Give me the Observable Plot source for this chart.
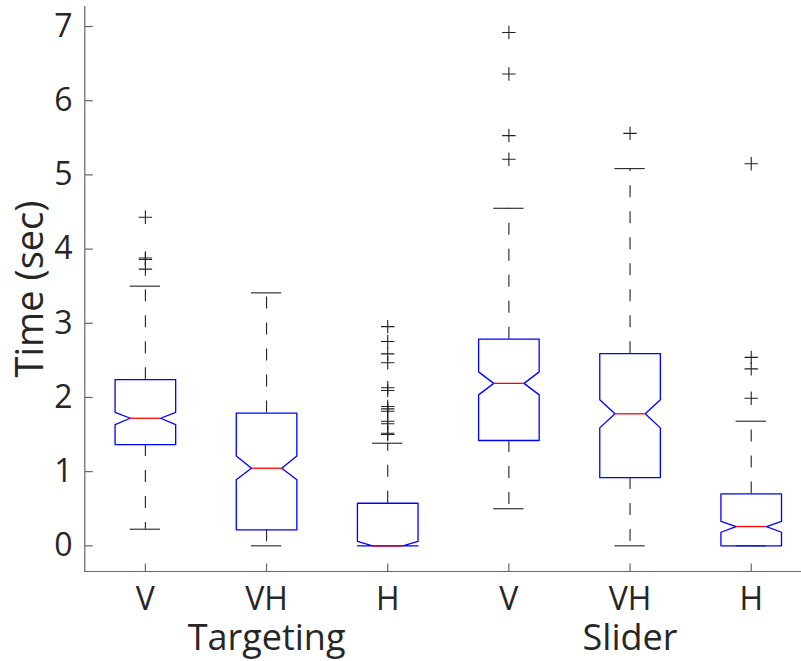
<!DOCTYPE html>
<html>
<head>
<meta charset="utf-8">
<script src="https://cdn.jsdelivr.net/npm/d3@7"></script>
<script src="https://cdn.jsdelivr.net/npm/@observablehq/plot@0.6"></script>
<style>
  html, body { margin: 0; padding: 0; background: #fff; }
  #chart svg { display: block; }
</style>
</head>
<body>
<div id="chart"></div>
<script>
// ---- data ----
const conditions = ["V", "VH", "H", "V", "VH", "H"];
const positions = [1, 2, 3, 4, 5, 6];
const groupNames = ["Targeting", "Slider"];
const groupPositions = [2, 5];
const q1 = [1.365, 0.216, 0, 1.42, 0.92, 0];
const medians = [1.72, 1.046, 0, 2.19, 1.78, 0.26];
const q3 = [2.24, 1.79, 0.574, 2.785, 2.59, 0.70];
const notchLo = [1.635, 0.89, 0, 2.035, 1.59, 0.183];
const notchHi = [1.80, 1.21, 0.06, 2.345, 1.97, 0.33];
const whiskerLo = [0.224, 0, 0, 0.50, 0, 0];
const whiskerHi = [3.50, 3.41, 1.383, 4.55, 5.085, 1.68];
const outliers = [
  [4.43, 3.88, 3.86, 3.73],
  [],
  [2.955, 2.754, 2.588, 2.467, 2.13, 2.093, 1.878, 1.846, 1.815, 1.68, 1.645, 1.518, 1.50],
  [6.92, 6.36, 5.53, 5.21],
  [5.56],
  [5.15, 2.54, 2.385, 1.99]
];
const yTicks = [0, 1, 2, 3, 4, 5, 6, 7];
const yLabel = "Time (sec)";
const xDomain = [0.5, 6.5];
const yDomain = [-0.346, 7.27];

// ---- derived tables ----
const halfBox = 0.25, halfNotch = 0.125;
const stats = positions.map((p, i) => ({
  pos: p, q1: q1[i], med: medians[i], q3: q3[i],
  nlo: notchLo[i], nhi: notchHi[i], lo: whiskerLo[i], hi: whiskerHi[i]
}));
const boxPts = [];
stats.forEach((s, i) => {
  const L = s.pos - halfBox, R = s.pos + halfBox;
  const pts = [
    [L, s.q1], [L, s.nlo], [s.pos - halfNotch, s.med], [L, s.nhi], [L, s.q3],
    [R, s.q3], [R, s.nhi], [s.pos + halfNotch, s.med], [R, s.nlo], [R, s.q1], [L, s.q1]
  ];
  pts.forEach(([x, y]) => boxPts.push({box: i, x, y}));
});
const outlierRows = outliers.flatMap((arr, i) => arr.map(v => ({pos: positions[i], v})));

const tickRight = {draw(ctx) { ctx.moveTo(0, 0); ctx.lineTo(8, 0); }};
const tickUp = {draw(ctx) { ctx.moveTo(0, 0); ctx.lineTo(0, -8); }};
const axisColor = "#666";

const chart = Plot.plot({
  width: 801,
  height: 661,
  marginTop: 6,
  marginBottom: 90,
  marginLeft: 84,
  marginRight: 0,
  style: {fontFamily: "'Open Sans', sans-serif", fontSize: "32px", color: "#262626", background: "#fff"},
  x: {domain: xDomain, range: [84.3, 811.3], axis: null},
  y: {domain: yDomain, axis: null},
  marks: [
    // axis lines
    Plot.ruleX([xDomain[0]], {stroke: axisColor, strokeWidth: 1.2}),
    Plot.ruleY([yDomain[0]], {stroke: axisColor, strokeWidth: 1.2}),
    // inward ticks
    Plot.dot(yTicks, {x: () => xDomain[0], y: d => d, symbol: tickRight, r: 4, fill: "none", stroke: axisColor, strokeWidth: 1.2}),
    Plot.dot(positions, {x: d => d, y: () => yDomain[0], symbol: tickUp, r: 4, fill: "none", stroke: axisColor, strokeWidth: 1.2}),
    // tick labels
    Plot.axisY(yTicks, {tickSize: 0, tickPadding: 12, label: null, fontSize: 32, tickFormat: d => String(d)}),
    Plot.axisX(positions, {tickSize: 0, tickPadding: 16, label: null, fontSize: 32, tickFormat: d => conditions[d - 1]}),
    // whiskers
    Plot.ruleX(stats, {x: "pos", y1: "q3", y2: "hi", stroke: "#222", strokeWidth: 1.1, strokeDasharray: "12,14"}),
    Plot.ruleX(stats, {x: "pos", y1: "q1", y2: "lo", stroke: "#222", strokeWidth: 1.1, strokeDasharray: "12,14"}),
    Plot.ruleY(stats, {y: "hi", x1: d => d.pos - halfNotch, x2: d => d.pos + halfNotch, stroke: "#222", strokeWidth: 1.1}),
    Plot.ruleY(stats, {y: "lo", x1: d => d.pos - halfNotch, x2: d => d.pos + halfNotch, stroke: "#222", strokeWidth: 1.1}),
    // boxes
    Plot.line(boxPts, {x: "x", y: "y", z: "box", stroke: "#0000ff", strokeWidth: 1.3, curve: "linear"}),
    // medians
    Plot.ruleY(stats, {y: "med", x1: d => d.pos - halfNotch, x2: d => d.pos + halfNotch, stroke: "#ff0000", strokeWidth: 1.3}),
    // outliers
    Plot.dot(outlierRows, {x: "pos", y: "v", symbol: "plus", r: 4.4, stroke: "#222", strokeWidth: 1.1}),
    // group labels
    Plot.text(groupNames, {x: (d, i) => groupPositions[i], frameAnchor: "bottom", lineAnchor: "middle", dy: 67, text: d => d, fontSize: 36}),
    // y label
    Plot.text([yLabel], {frameAnchor: "left", textAnchor: "middle", lineAnchor: "middle", rotate: -90, dx: -54, text: d => d, fontSize: 38})
  ]
});
document.getElementById("chart").append(chart);
</script>
</body>
</html>
